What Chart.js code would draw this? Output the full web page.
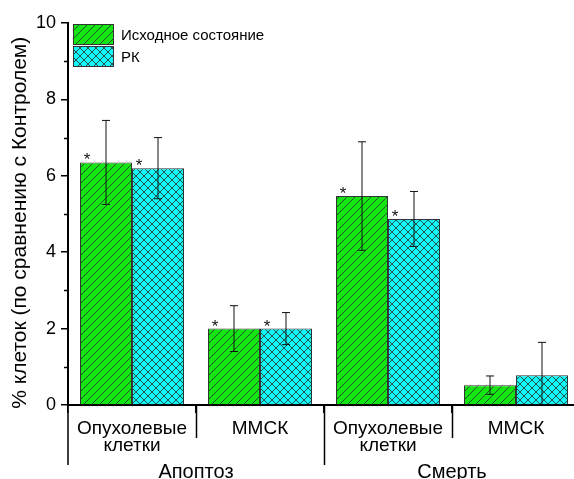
<!DOCTYPE html>
<html lang="ru">
<head>
<meta charset="UTF-8">
<title>Апоптоз и смерть клеток</title>
<script src="https://cdn.jsdelivr.net/npm/chart.js"></script>
<style>
    body { margin: 0; background: #fff; overflow: hidden; }
    .wrap { position: relative; width: 590px; height: 479px; }
</style>
</head>
<body>
<div class="wrap"><canvas id="cellsChart"></canvas></div>
<script>
    // данные
    const categories = [['Опухолевые', 'клетки'], 'ММСК', ['Опухолевые', 'клетки'], 'ММСК'];
    const groups = ['Апоптоз', 'Смерть'];
    const seriesNames = ['Исходное состояние', 'РК'];
    const baseline = [6.35, 2.0, 5.47, 0.52];
    const baselineErr = [1.1, 0.6, 1.42, 0.24];
    const baselineStar = [true, true, true, false];
    const rk = [6.2, 2.0, 4.87, 0.78];
    const rkErr = [0.8, 0.42, 0.72, 0.86];
    const rkStar = [true, true, true, false];
    const yTicks = [0, 2, 4, 6, 8, 10];

    const FONT = 'Arial, "Liberation Sans"';

    function hatch(bg, cross) {
        const c = document.createElement('canvas');
        c.width = 8; c.height = 8;
        const g = c.getContext('2d');
        g.fillStyle = bg;
        g.fillRect(0, 0, 8, 8);
        g.strokeStyle = '#2a2a2a';
        g.lineWidth = 0.8;
        g.beginPath();
        g.moveTo(-1, 9); g.lineTo(9, -1);
        g.moveTo(-1, 1); g.lineTo(1, -1);
        g.moveTo(7, 9); g.lineTo(9, 7);
        if (cross) {
            g.moveTo(-1, -1); g.lineTo(9, 9);
            g.moveTo(7, -1); g.lineTo(9, 1);
            g.moveTo(-1, 7); g.lineTo(1, 9);
        }
        g.stroke();
        return g.createPattern(c, 'repeat');
    }

    const greenFill = hatch('#14e614', false);
    const cyanFill = hatch('#14f5f5', true);
    const errs = [baselineErr, rkErr];
    const stars = [baselineStar, rkStar];

    const extras = {
        id: 'extras',
        afterDatasetsDraw(chart) {
            const ctx = chart.ctx;
            const y = chart.scales.y;
            const area = chart.chartArea;
            ctx.save();
            // планки погрешностей и звёздочки
            chart.data.datasets.forEach((ds, di) => {
                chart.getDatasetMeta(di).data.forEach((bar, i) => {
                    const v = ds.data[i];
                    const e = errs[di][i];
                    const top = y.getPixelForValue(v + e);
                    const bot = y.getPixelForValue(Math.max(0, v - e));
                    ctx.strokeStyle = '#111';
                    ctx.lineWidth = 1;
                    ctx.beginPath();
                    ctx.moveTo(bar.x, top); ctx.lineTo(bar.x, bot);
                    ctx.moveTo(bar.x - 4, top); ctx.lineTo(bar.x + 4, top);
                    if (v - e > 0) { ctx.moveTo(bar.x - 4, bot); ctx.lineTo(bar.x + 4, bot); }
                    ctx.stroke();
                    if (stars[di][i]) {
                        ctx.fillStyle = '#111';
                        ctx.font = '17px ' + FONT;
                        ctx.textAlign = 'center';
                        ctx.textBaseline = 'alphabetic';
                        ctx.fillText('*', bar.x - bar.width / 2 + 7, bar.y + 3);
                    }
                });
            });
            // малые деления
            ctx.strokeStyle = '#000';
            ctx.lineWidth = 1.5;
            ctx.beginPath();
            for (let v = 1; v < 10; v += 2) {
                const py = Math.round(y.getPixelForValue(v)) + 0.5;
                ctx.moveTo(area.left - 4, py); ctx.lineTo(area.left, py);
            }
            // разделители категорий и групп
            const step = (area.right - area.left) / categories.length;
            for (let k = 1; k < categories.length; k++) {
                const px = Math.round(area.left + k * step) + 0.5;
                ctx.moveTo(px, area.bottom);
                ctx.lineTo(px, area.bottom + (k === 2 ? 60 : 33));
            }
            ctx.moveTo(area.left, area.bottom);
            ctx.lineTo(area.left, area.bottom + 60);
            ctx.stroke();
            // подписи групп
            ctx.fillStyle = '#000';
            ctx.font = '20px ' + FONT;
            ctx.textAlign = 'center';
            ctx.textBaseline = 'middle';
            groups.forEach((g, k) => {
                ctx.fillText(g, area.left + (2 * k + 1) * step, area.bottom + 67);
            });
            // легенда
            const fills = [greenFill, cyanFill];
            seriesNames.forEach((n, k) => {
                const ly = area.top + 1 + k * 22;
                ctx.fillStyle = fills[k];
                ctx.fillRect(area.left + 5, ly, 40, 20);
                ctx.strokeStyle = '#333';
                ctx.lineWidth = 1;
                ctx.strokeRect(area.left + 5.5, ly + 0.5, 40, 20);
                ctx.fillStyle = '#000';
                ctx.font = '15px ' + FONT;
                ctx.textAlign = 'left';
                ctx.fillText(n, area.left + 53, ly + 12);
            });
            ctx.restore();
        }
    };

    new Chart(document.getElementById('cellsChart'), {
        type: 'bar',
        data: {
            labels: categories,
            datasets: [
                { label: seriesNames[0], data: baseline, backgroundColor: greenFill, borderColor: '#333', borderWidth: 1 },
                { label: seriesNames[1], data: rk, backgroundColor: cyanFill, borderColor: '#333', borderWidth: 1 }
            ]
        },
        options: {
            responsive: true,
            maintainAspectRatio: false,
            animation: false,
            layout: { padding: { top: 23, right: 10, left: 0, bottom: 0 } },
            plugins: { legend: { display: false }, tooltip: { enabled: false } },
            datasets: { bar: { categoryPercentage: 0.8125, barPercentage: 1.0 } },
            scales: {
                x: {
                    grid: { drawOnChartArea: false, color: '#000', lineWidth: 1.5, tickLength: 8 },
                    border: { color: '#000', width: 2 },
                    ticks: { color: '#000', font: { size: 19, family: FONT, lineHeight: 0.9 }, padding: 7, maxRotation: 0, autoSkip: false },
                    afterFit(s) { s.height = 74; }
                },
                y: {
                    min: 0, max: 10,
                    afterBuildTicks(s) { s.ticks = yTicks.map(v => ({ value: v })); },
                    grid: { drawOnChartArea: false, color: '#000', lineWidth: 1.5, tickLength: 7 },
                    border: { color: '#000', width: 2 },
                    ticks: { color: '#000', font: { size: 18, family: FONT }, padding: 5 },
                    title: { display: true, text: '% клеток (по сравнению с Контролем)\u00a0\u00a0\u00a0', color: '#000', font: { size: 21, family: FONT }, padding: { top: 8, bottom: 0 } },
                    afterFit(s) { s.width = 68; }
                }
            }
        },
        plugins: [extras]
    });
</script>
</body>
</html>
